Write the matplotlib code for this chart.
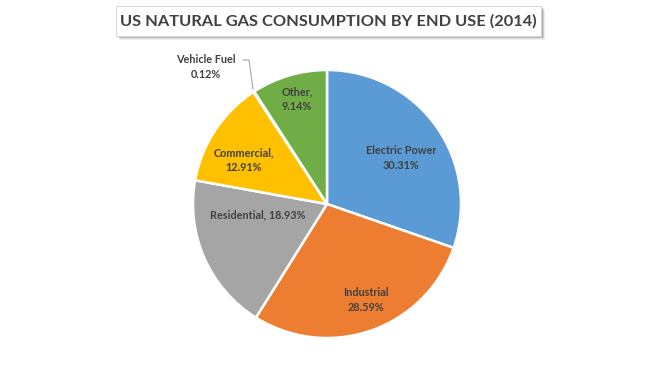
import matplotlib
matplotlib.use("Agg")
import matplotlib.pyplot as plt
from matplotlib.patches import Rectangle
import numpy as np

categories = ["Electric Power", "Industrial", "Residential", "Commercial", "Vehicle Fuel", "Other"]
values = [30.31, 28.59, 18.93, 12.91, 0.12, 9.14]
colors = ["#5B9BD5", "#ED7D31", "#A5A5A5", "#FFC000", "#4472C4", "#70AD47"]
label_texts = ["Electric Power\n30.31%", "Industrial\n28.59%", "Residential, 18.93%",
               "Commercial,\n12.91%", "Vehicle Fuel\n0.12%", "Other,\n9.14%"]
title = "US NATURAL GAS CONSUMPTION BY END USE (2014)"

plt.rcParams['font.family'] = ['Lato', 'DejaVu Sans']

W, H = 658, 369
fig = plt.figure(figsize=(W / 100, H / 100), dpi=100)
ax = fig.add_axes([0, 0, 1, 1])

cx, cy, r = 327, H - 204, 134
wedges, _ = ax.pie(values, colors=colors, startangle=90, counterclock=False,
                   center=(cx, cy), radius=r, frame=True,
                   wedgeprops=dict(edgecolor='white', linewidth=1.8))
ax.set_xlim(0, W)
ax.set_ylim(0, H)
ax.set_aspect('equal')
ax.axis('off')

# label positions (pixel coords from top-left)
label_pos = [(401, 158), (366, 300), (258, 215), (244, 160), (206, 67), (297, 99)]
txt_color = "#404040"
for t, (x, y) in zip(label_texts, label_pos):
    ax.text(x, H - y, t, ha='center', va='center', fontsize=7.8,
            color=txt_color, fontweight='bold', linespacing=1.45)

# leader line for Vehicle Fuel
ax.plot([243, 249, 253], [H - 60, H - 60, H - 89], color="#A6A6A6", lw=0.8)

# title box with shadow
bx0, by0, bx1, by1 = 116, 6, 541, 36
for k in range(5, 0, -1):
    ax.add_patch(Rectangle((bx0 + 1 + k * 0.6, H - by1 - k * 0.8), bx1 - bx0, by1 - by0,
                           facecolor='black', alpha=0.07, edgecolor='none', zorder=5))
ax.add_patch(Rectangle((bx0, H - by1), bx1 - bx0, by1 - by0, facecolor='white',
                       edgecolor='#D0D0D0', lw=0.6, zorder=6))
ax.text((bx0 + bx1) / 2, H - (by0 + by1) / 2 - 0.5, title, ha='center', va='center',
        fontsize=11.8, fontweight='bold', color='#404040', zorder=7)

fig.savefig("out.png", dpi=100, facecolor='white')
